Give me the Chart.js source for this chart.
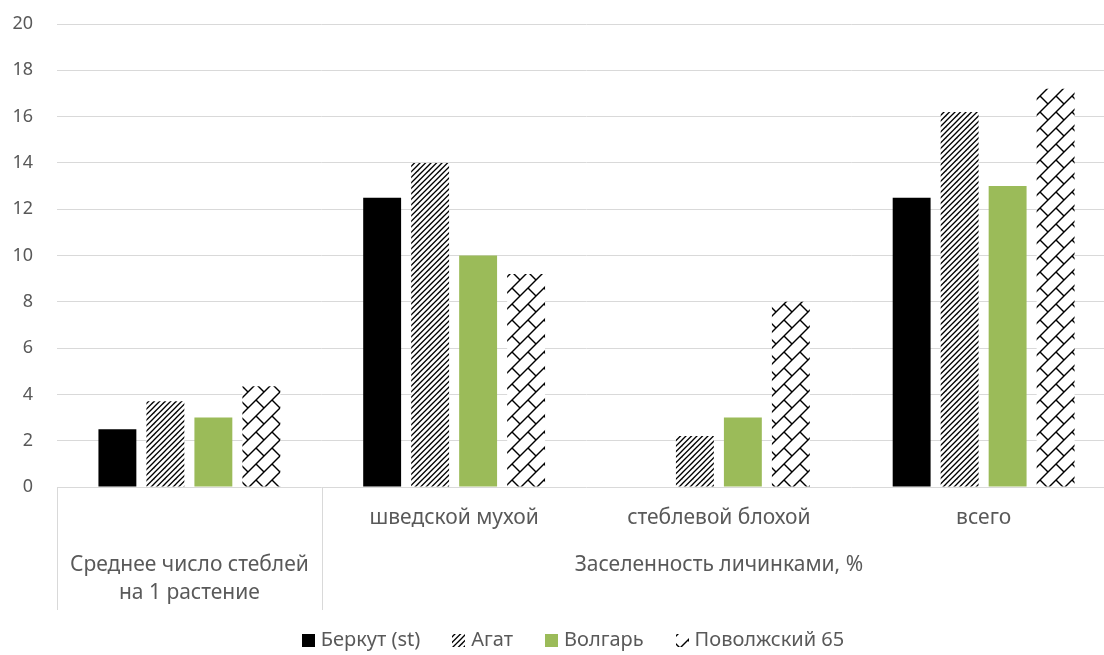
<!DOCTYPE html>
<html>
<head>
<meta charset="utf-8">
<script src="https://cdn.jsdelivr.net/npm/chart.js@4.4.1/dist/chart.umd.min.js"></script>
<style>
    html, body { margin: 0; padding: 0; background: #ffffff; overflow: hidden; }
    #wrap { position: absolute; left: 0; top: 0; width: 1116px; height: 655px; }
</style>
</head>
<body>
<div id="wrap"><canvas id="chart"></canvas></div>
<script>
// Data
const categories = ['', 'шведской мухой', 'стеблевой блохой', 'всего'];
const groupLabels = [['Среднее число стеблей', 'на 1 растение'], ['Заселенность личинками, %']];
const groupStart = [0, 1];
const groupEnd = [0, 3];
const seriesNames = ['Беркут (st)', 'Агат', 'Волгарь', 'Поволжский 65'];
const berkut = [2.5, 12.5, 0, 12.5];
const agat = [3.7, 14.0, 2.2, 16.2];
const volgar = [3.0, 10.0, 3.0, 13.0];
const povolzhsky = [4.35, 9.2, 8.0, 17.2];
const yMin = 0;
const yMax = 20;
const yStep = 2;

const FONT = "'Noto Sans', 'DejaVu Sans', sans-serif";
const TICK_SIZE = 18;
const LABEL_SIZE = 21;
const LEGEND_SIZE = 20;
const TEXT = '#595959';
const GRID = '#d9d9d9';

// Fill patterns
function hatchPattern() {
    const t = 11;
    const c = document.createElement('canvas');
    c.width = t; c.height = t;
    const g = c.getContext('2d');
    g.fillStyle = '#ffffff';
    g.fillRect(0, 0, t, t);
    g.strokeStyle = '#000000';
    g.lineWidth = 1.3;
    for (let k = 0; k <= 4; k++) {
        const s = k * t / 2;
        g.beginPath();
        g.moveTo(-t, s + t);
        g.lineTo(2 * t, s - 2 * t);
        g.stroke();
    }
    return g.createPattern(c, 'repeat');
}

function shinglePattern() {
    const t = 16;
    const c = document.createElement('canvas');
    c.width = t; c.height = t;
    const g = c.getContext('2d');
    g.fillStyle = '#ffffff';
    g.fillRect(0, 0, t, t);
    g.strokeStyle = '#000000';
    g.lineWidth = 1.4;
    // "/" lines
    [0, t, 2 * t].forEach(s => {
        g.beginPath(); g.moveTo(-2, s + 2); g.lineTo(s + 2, -2); g.stroke();
    });
    // "\" brick joints
    g.beginPath(); g.moveTo(0, 0); g.lineTo(t / 2, t / 2); g.stroke();
    return g.createPattern(c, 'repeat');
}

const fills = ['#000000', hatchPattern(), '#9bbb59', shinglePattern()];

// Multi-level category axis + legend
const extrasPlugin = {
    id: 'extras',
    afterDraw(chart) {
        const ctx = chart.ctx;
        const x = chart.scales.x;
        const area = chart.chartArea;
        const step = x.getPixelForValue(1) - x.getPixelForValue(0);
        ctx.save();

        // group dividers
        ctx.strokeStyle = GRID;
        ctx.lineWidth = 1;
        groupStart.forEach(s => {
            const px = Math.round(x.getPixelForValue(s) - step / 2) + 0.5;
            ctx.beginPath();
            ctx.moveTo(px, area.bottom);
            ctx.lineTo(px, area.bottom + 123);
            ctx.stroke();
        });

        // group labels
        ctx.fillStyle = TEXT;
        ctx.font = LABEL_SIZE + 'px ' + FONT;
        ctx.textAlign = 'center';
        ctx.textBaseline = 'middle';
        groupLabels.forEach((lines, i) => {
            const cx = (x.getPixelForValue(groupStart[i]) + x.getPixelForValue(groupEnd[i])) / 2;
            lines.forEach((line, j) => {
                ctx.fillText(line, cx, area.bottom + 78 + j * 28);
            });
        });

        // legend
        ctx.font = LEGEND_SIZE + 'px ' + FONT;
        const box = 13, gap = 6, itemGap = 32, ly = 640;
        const widths = seriesNames.map(n => ctx.measureText(n).width);
        const total = widths.reduce((a, w) => a + box + gap + w, 0) + itemGap * (seriesNames.length - 1);
        let lx = 573 - total / 2;
        ctx.textAlign = 'left';
        seriesNames.forEach((name, i) => {
            ctx.fillStyle = fills[i];
            ctx.fillRect(Math.round(lx), ly - 6, box, box);
            ctx.fillStyle = TEXT;
            ctx.fillText(name, lx + box + gap, ly);
            lx += box + gap + widths[i] + itemGap;
        });
        ctx.restore();
    }
};

const ctx = document.getElementById('chart').getContext('2d');
const chart = new Chart(ctx, {
    type: 'bar',
    data: {
        labels: categories,
        datasets: [berkut, agat, volgar, povolzhsky].map((vals, i) => ({
            label: seriesNames[i],
            data: vals,
            backgroundColor: fills[i],
            borderWidth: 0,
            categoryPercentage: 0.725,
            barPercentage: 0.79
        }))
    },
    options: {
        responsive: true,
        maintainAspectRatio: false,
        animation: false,
        layout: { padding: { top: 24, left: 0, right: 0, bottom: 0 } },
        plugins: {
            legend: { display: false },
            tooltip: { enabled: false }
        },
        scales: {
            x: {
                grid: { display: false, drawTicks: false },
                border: { display: false },
                ticks: {
                    color: TEXT,
                    font: { family: FONT, size: LABEL_SIZE },
                    padding: 18,
                    maxRotation: 0,
                    autoSkip: false
                },
                afterFit: s => { s.height = 168; }
            },
            y: {
                min: yMin,
                max: yMax,
                grid: { color: GRID, lineWidth: 1, drawTicks: false },
                border: { display: false },
                ticks: {
                    stepSize: yStep,
                    color: TEXT,
                    font: { family: FONT, size: TICK_SIZE },
                    padding: 24
                },
                afterFit: s => {
                    s.width = 57;
                    s.paddingTop = 10;
                    s.paddingBottom = 10;
                }
            }
        }
    },
    plugins: [extrasPlugin]
});
</script>
</body>
</html>
